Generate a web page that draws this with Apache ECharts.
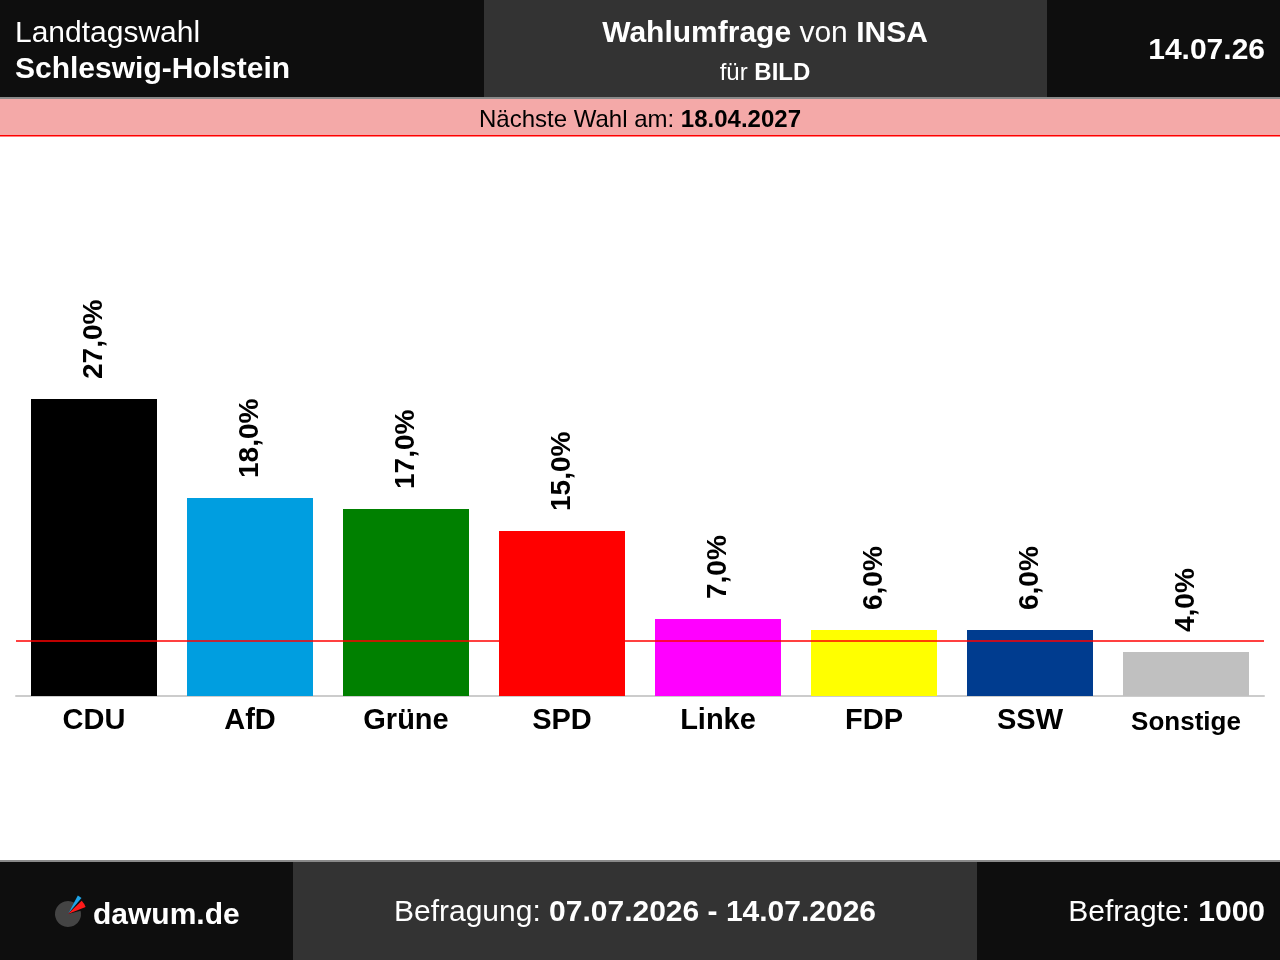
<!DOCTYPE html>
<html>
<head>
<meta charset="utf-8">
<script src="https://cdn.jsdelivr.net/npm/echarts@6/dist/echarts.min.js"></script>
<style>
  html, body { margin: 0; padding: 0; background: #fff; }
  #chart { width: 1280px; height: 960px; }
</style>
</head>
<body>
<div id="chart"></div>
<script>
var parties = ['CDU', 'AfD', 'Grüne', 'SPD', 'Linke', 'FDP', 'SSW', 'Sonstige'];
var shares = [27.0, 18.0, 17.0, 15.0, 7.0, 6.0, 6.0, 4.0];
var partyColors = ['#000000', '#009ee0', '#008000', '#ff0000', '#ff00ff', '#ffff00', '#003c8f', '#c0c0c0'];
var threshold = 5;

var FONT = '"Liberation Sans", Arial, sans-serif';
var chart = echarts.init(document.getElementById('chart'));

// header / footer panels
function rect(x, y, w, h, fill) {
  return {type: 'rect', silent: true, shape: {x: x, y: y, width: w, height: h}, style: {fill: fill}};
}
function text(x, y, str, size, align, rich) {
  return {
    type: 'text', silent: true, x: x, y: y,
    style: {
      text: str, fill: '#fff', fontFamily: FONT, fontSize: size,
      align: align || 'left', verticalAlign: 'middle', rich: rich
    }
  };
}
function bold(size, color) {
  return {fontFamily: FONT, fontSize: size, fontWeight: 'bold', fill: color || '#fff'};
}
function normal(size, color) {
  return {fontFamily: FONT, fontSize: size, fill: color || '#fff'};
}

var graphics = [
  rect(0, 0, 1280, 98, '#0e0e0e'),
  rect(484, 0, 563, 97, '#333333'),
  rect(0, 97, 1280, 2, '#8a8a8a'),
  rect(0, 99, 1280, 36, '#f4a9a8'),
  rect(0, 135, 1280, 1.5, '#ff0000'),
  rect(0, 860, 1280, 100, '#0e0e0e'),
  rect(0, 860, 1280, 2, '#8a8a8a'),
  rect(293, 862, 684, 98, '#333333'),

  text(15, 34, '{n|Landtagswahl}', 30, 'left', {n: normal(30)}),
  text(15, 70, '{b|Schleswig-Holstein}', 30, 'left', {b: bold(30)}),
  text(765, 34, '{b|Wahlumfrage} {n|von} {b|INSA}', 30, 'center', {b: bold(30), n: normal(30)}),
  text(765, 73, '{n|für} {b|BILD}', 24, 'center', {b: bold(24), n: normal(24)}),
  text(1265, 51, '{b|14.07.26}', 30, 'right', {b: bold(30)}),
  text(640, 120, '{n|Nächste Wahl am:} {b|18.04.2027}', 24, 'center',
       {b: bold(24, '#000'), n: normal(24, '#000')}),

  text(93, 916, '{b|dawum.de}', 30, 'left', {b: bold(30)}),
  text(635, 913, '{n|Befragung:} {b|07.07.2026 - 14.07.2026}', 30, 'center', {b: bold(30), n: normal(30)}),
  text(1265, 913, '{n|Befragte:} {b|1000}', 30, 'right', {b: bold(30), n: normal(30)}),

  // logo
  {type: 'sector', silent: true, shape: {cx: 68, cy: 914, r: 13, r0: 0,
    startAngle: -15 * Math.PI / 180, endAngle: 300 * Math.PI / 180, clockwise: true},
    style: {fill: '#444444'}},
  {type: 'sector', silent: true, shape: {cx: 68, cy: 914, r: 21, r0: 0,
    startAngle: -62 * Math.PI / 180, endAngle: -50 * Math.PI / 180, clockwise: true},
    style: {fill: '#1fa4e8'}},
  {type: 'sector', silent: true, shape: {cx: 68, cy: 914, r: 19, r0: 0,
    startAngle: -44 * Math.PI / 180, endAngle: -22 * Math.PI / 180, clockwise: true},
    style: {fill: '#ff1a1a'}}
];

chart.setOption({
  animation: false,
  backgroundColor: '#ffffff',
  graphic: graphics,
  grid: {left: 16, right: 16, top: 256, bottom: 264, containLabel: false},
  xAxis: {
    type: 'category',
    data: parties,
    axisLine: {lineStyle: {color: '#cccccc', width: 2}},
    axisTick: {show: false},
    axisLabel: {
      interval: 0,
      color: '#000', fontFamily: FONT, fontWeight: 'bold', fontSize: 29, margin: 10,
      formatter: function(v) {
        return v === 'Sonstige' ? '{s|' + v + '}' : v;
      },
      rich: {s: {fontFamily: FONT, fontWeight: 'bold', fontSize: 26, color: '#000', padding: [4, 0, 0, 0]}}
    }
  },
  yAxis: {
    type: 'value', min: 0, max: 40, show: false,
    splitLine: {show: false}
  },
  series: [{
    type: 'bar',
    barWidth: 126,
    data: shares.map(function(v, i) {
      return {value: v, itemStyle: {color: partyColors[i]}};
    }),
    label: {
      show: true,
      position: 'top',
      rotate: 90,
      align: 'left',
      verticalAlign: 'middle',
      distance: 20,
      color: '#000',
      fontFamily: FONT,
      fontWeight: 'bold',
      fontSize: 28,
      formatter: function(p) {
        return p.value.toFixed(1).replace('.', ',') + '%';
      }
    },
    markLine: {
      silent: true,
      symbol: 'none',
      label: {show: false},
      lineStyle: {color: '#ff0000', width: 1.5, type: 'solid'},
      data: [{yAxis: threshold}]
    }
  }]
});
</script>
</body>
</html>
